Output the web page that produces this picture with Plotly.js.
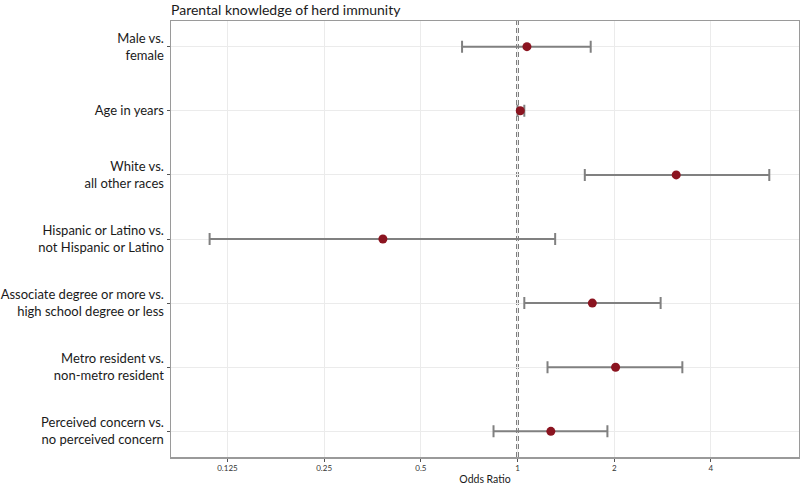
<!DOCTYPE html>
<html>
<head>
<meta charset="utf-8">
<script src="https://cdn.plot.ly/plotly-3.0.1.min.js"></script>
<style>html,body{margin:0;padding:0;background:#fff;}#chart{width:800px;height:485px;}</style>
</head>
<body>
<div id="chart"></div>
<script>
const categories = [
  "Male vs.<br>female",
  "Age in years",
  "White vs.<br>all other races",
  "Hispanic or Latino vs.<br>not Hispanic or Latino",
  "Associate degree or more vs.<br>high school degree or less",
  "Metro resident vs.<br>non-metro resident",
  "Perceived concern vs.<br>no perceived concern"
];
const oddsRatio = [1.07, 1.02, 3.12, 0.381, 1.71, 2.02, 1.27];
const ciLow     = [0.672, 1.00, 1.62, 0.110, 1.05, 1.24, 0.842];
const ciHigh    = [1.69, 1.05, 6.08, 1.31, 2.79, 3.26, 1.905];
const xTicks = [0.125, 0.25, 0.5, 1, 2, 4];
const xTickText = ["0.125", "0.25", "0.5", "1", "2", "4"];

const font = "Lato, 'Open Sans', sans-serif";
const trace = {
  type: "scatter",
  mode: "markers",
  x: oddsRatio,
  y: categories,
  marker: {color: "#8b1420", size: 9},
  error_x: {
    type: "data",
    symmetric: false,
    array: oddsRatio.map((v, i) => ciHigh[i] - v),
    arrayminus: oddsRatio.map((v, i) => v - ciLow[i]),
    color: "#808080",
    thickness: 2,
    width: 6
  },
  hoverinfo: "x+y",
  showlegend: false
};

const layout = {
  width: 800, height: 485,
  margin: {l: 171, r: 1, t: 21, b: 28},
  paper_bgcolor: "#fff", plot_bgcolor: "#fff",
  font: {family: font, color: "#1a1a1a"},
  title: {text: "Parental knowledge of herd immunity", x: 0, xref: "paper", xanchor: "left",
          y: 0.99, yref: "container", yanchor: "top", font: {family: font, size: 14, color: "#1a1a1a"}},
  xaxis: {
    type: "log",
    range: [-1.0788, 0.8764],
    tickvals: xTicks, ticktext: xTickText,
    tickfont: {size: 8, color: "#333"},
    ticks: "outside", ticklen: 3, tickcolor: "#555", tickwidth: 1,
    showgrid: true, gridcolor: "#ebebeb", gridwidth: 1,
    showline: true, linecolor: "#9a9a9a", linewidth: 1.5, mirror: true,
    zeroline: false,
    title: {text: "Odds Ratio", font: {family: font, size: 10.5, color: "#1a1a1a"}, standoff: 6}
  },
  yaxis: {
    type: "category",
    range: [6.4, -0.4],
    tickfont: {size: 13, color: "#1a1a1a"},
    ticks: "outside", ticklen: 3, tickcolor: "#555", tickwidth: 1,
    showgrid: true, gridcolor: "#ebebeb", gridwidth: 1,
    showline: true, linecolor: "#9a9a9a", linewidth: 1.5, mirror: true,
    zeroline: false
  },
  shapes: [{
    type: "line", xref: "x", yref: "paper",
    x0: 1, x1: 1, y0: 0, y1: 1,
    line: {color: "#000000", width: 2, dash: "5px,3px"},
    layer: "between"
  }]
};

Plotly.newPlot("chart", [trace], layout, {displayModeBar: false, staticPlot: true});
</script>
</body>
</html>
